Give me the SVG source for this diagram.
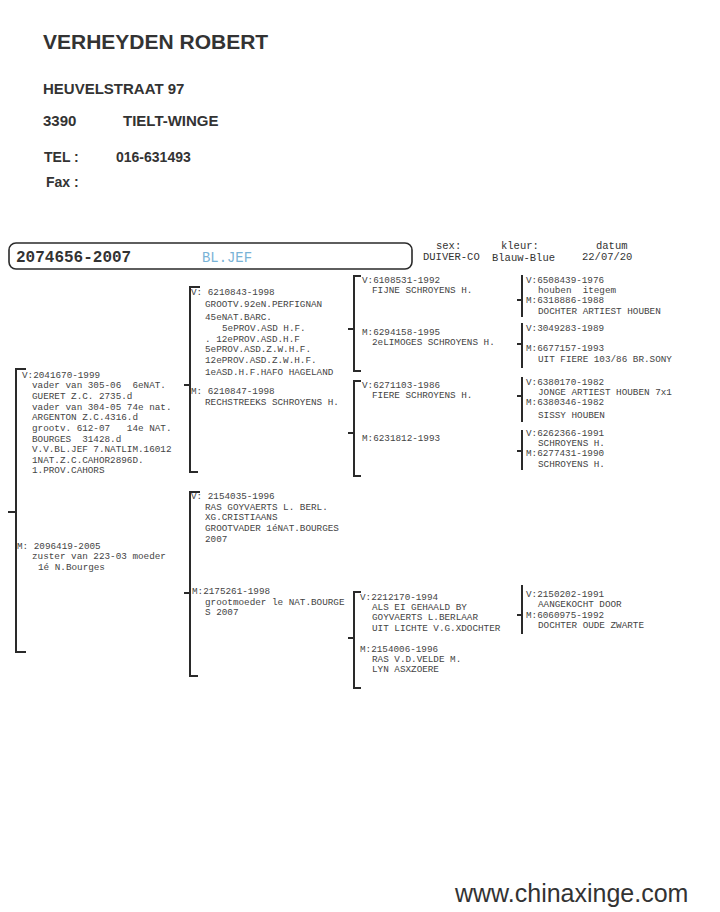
<svg xmlns="http://www.w3.org/2000/svg" width="720" height="912" viewBox="0 0 720 912">
<style>
.h{font-family:"Liberation Sans",Arial,sans-serif;font-weight:bold;fill:#333}
.t{font-family:"Liberation Mono","Courier New",monospace;font-size:9.3px;fill:#444;white-space:pre}
.s{font-family:"Liberation Mono","Courier New",monospace;fill:#333;white-space:pre}
.l{font-family:"Liberation Mono","Courier New",monospace;font-size:10.5px;fill:#333;white-space:pre}
.br{fill:none;stroke:#2a2a2a;stroke-width:2}
</style>
<rect width="720" height="912" fill="#fff"/>
<g id="header">
<text class="h" x="43" y="49" font-size="21">VERHEYDEN ROBERT</text>
<text class="h" x="43" y="94" font-size="15">HEUVELSTRAAT 97</text>
<text class="h" x="43" y="126" font-size="15">3390</text>
<text class="h" x="123" y="126" font-size="15">TIELT-WINGE</text>
<text class="h" x="44" y="162" font-size="14">TEL :</text>
<text class="h" x="116" y="162" font-size="14">016-631493</text>
<text class="h" x="46" y="187" font-size="14">Fax :</text>
</g>
<g id="titlebar">
<rect x="9" y="243" width="403" height="26" rx="7" fill="none" stroke="#2a2a2a" stroke-width="1.6"/>
<text class="s" x="16" y="262" font-size="16" font-weight="bold" fill="#2a2a2a">2074656-2007</text>
<text class="s" x="202" y="262" font-size="13.9" style="fill:#78b2d6">BL.JEF</text>
<text class="l" x="436" y="249">sex:</text>
<text class="l" x="423" y="260">DUIVER-CO</text>
<text class="l" x="501" y="249">kleur:</text>
<text class="l" x="492" y="261">Blauw-Blue</text>
<text class="l" x="596" y="249">datum</text>
<text class="l" x="582" y="260">22/07/20</text>
</g>
<g id="connectors">
<path class="br" d="M26 369H16V652H26M8 512H16"/>
<path class="br" d="M200 287H190V472H198M184 385H190"/>
<path class="br" d="M200 492H190V676H198M184 593H190"/>
<path class="br" d="M361 276H354V371H361M348 329H354"/>
<path class="br" d="M361 381H354V476H361M348 433H354"/>
<path class="br" d="M361 592H354V688H361M348 638H354"/>
<path class="br" d="M522 275V317M517 300H522"/>
<path class="br" d="M522 323V368M517 344H522"/>
<path class="br" d="M522 377V422M517 396H522"/>
<path class="br" d="M522 430V470M517 451H522"/>
<path class="br" d="M522 585V634M517 615H522"/>
</g>
<g id="sire-2041670">
<text class="t" x="22" y="378">V:2041670-1999</text>
<text class="t" x="32" y="388">vader van 305-06  6eNAT.</text>
<text class="t" x="32" y="399">GUERET Z.C. 2735.d</text>
<text class="t" x="32" y="410">vader van 304-05 74e nat.</text>
<text class="t" x="32" y="420">ARGENTON Z.C.4316.d</text>
<text class="t" x="32" y="431">grootv. 612-07   14e NAT.</text>
<text class="t" x="32" y="442">BOURGES  31428.d</text>
<text class="t" x="32" y="452">V.V.BL.JEF 7.NATLIM.16012</text>
<text class="t" x="32" y="463">1NAT.Z.C.CAHOR2896D.</text>
<text class="t" x="32" y="473">1.PROV.CAHORS</text>
</g>
<g id="dam-2096419">
<text class="t" x="17" y="549">M: 2096419-2005</text>
<text class="t" x="32" y="559">zuster van 223-03 moeder</text>
<text class="t" x="38" y="570">1é N.Bourges</text>
</g>
<g id="ss-6210843">
<text class="t" x="191" y="295">V: 6210843-1998</text>
<text class="t" x="205" y="307">GROOTV.92eN.PERFIGNAN</text>
<text class="t" x="205" y="320">45eNAT.BARC.</text>
<text class="t" x="222" y="331">5ePROV.ASD H.F.</text>
<text class="t" x="205" y="342">. 12ePROV.ASD.H.F</text>
<text class="t" x="205" y="352">5ePROV.ASD.Z.W.H.F.</text>
<text class="t" x="205" y="363">12ePROV.ASD.Z.W.H.F.</text>
<text class="t" x="205" y="375">1eASD.H.F.HAFO HAGELAND</text>
</g>
<g id="sd-6210847">
<text class="t" x="191" y="394">M: 6210847-1998</text>
<text class="t" x="205" y="405">RECHSTREEKS SCHROYENS H.</text>
</g>
<g id="ds-2154035">
<text class="t" x="191" y="499">V: 2154035-1996</text>
<text class="t" x="205" y="510">RAS GOYVAERTS L. BERL.</text>
<text class="t" x="205" y="520">XG.CRISTIAANS</text>
<text class="t" x="205" y="531">GROOTVADER 1éNAT.BOURGES</text>
<text class="t" x="205" y="542">2007</text>
</g>
<g id="dd-2175261">
<text class="t" x="192" y="594">M:2175261-1998</text>
<text class="t" x="205" y="605">grootmoeder le NAT.BOURGE</text>
<text class="t" x="205" y="615">S 2007</text>
</g>
<g id="g3-6108531">
<text class="t" x="362" y="283">V:6108531-1992</text>
<text class="t" x="372" y="293">FIJNE SCHROYENS H.</text>
</g>
<g id="g3-6294158">
<text class="t" x="362" y="335">M:6294158-1995</text>
<text class="t" x="372" y="345">2eLIMOGES SCHROYENS H.</text>
</g>
<g id="g3-6271103">
<text class="t" x="362" y="388">V:6271103-1986</text>
<text class="t" x="372" y="398">FIERE SCHROYENS H.</text>
</g>
<g id="g3-6231812">
<text class="t" x="362" y="441">M:6231812-1993</text>
</g>
<g id="g3-2212170">
<text class="t" x="360" y="600">V:2212170-1994</text>
<text class="t" x="372" y="610">ALS EI GEHAALD BY</text>
<text class="t" x="372" y="620">GOYVAERTS L.BERLAAR</text>
<text class="t" x="372" y="631">UIT LICHTE V.G.XDOCHTER</text>
</g>
<g id="g3-2154006">
<text class="t" x="360" y="652">M:2154006-1996</text>
<text class="t" x="372" y="662">RAS V.D.VELDE M.</text>
<text class="t" x="372" y="672">LYN ASXZOERE</text>
</g>
<g id="g4-6508439">
<text class="t" x="526" y="283">V:6508439-1976</text>
<text class="t" x="538" y="293">houben  itegem</text>
</g>
<g id="g4-6318886">
<text class="t" x="526" y="303">M:6318886-1988</text>
<text class="t" x="538" y="314">DOCHTER ARTIEST HOUBEN</text>
</g>
<g id="g4-3049283">
<text class="t" x="526" y="331">V:3049283-1989</text>
</g>
<g id="g4-6677157">
<text class="t" x="526" y="351">M:6677157-1993</text>
<text class="t" x="538" y="362">UIT FIERE 103/86 BR.SONY</text>
</g>
<g id="g4-6380170">
<text class="t" x="526" y="385">V:6380170-1982</text>
<text class="t" x="538" y="395">JONGE ARTIEST HOUBEN 7x1</text>
</g>
<g id="g4-6380346">
<text class="t" x="526" y="405">M:6380346-1982</text>
<text class="t" x="538" y="418">SISSY HOUBEN</text>
</g>
<g id="g4-6262366">
<text class="t" x="526" y="436">V:6262366-1991</text>
<text class="t" x="538" y="446">SCHROYENS H.</text>
</g>
<g id="g4-6277431">
<text class="t" x="526" y="456">M:6277431-1990</text>
<text class="t" x="538" y="467">SCHROYENS H.</text>
</g>
<g id="g4-2150202">
<text class="t" x="526" y="597">V:2150202-1991</text>
<text class="t" x="538" y="607">AANGEKOCHT DOOR</text>
</g>
<g id="g4-6060975">
<text class="t" x="526" y="618">M:6060975-1992</text>
<text class="t" x="538" y="628">DOCHTER OUDE ZWARTE</text>
</g>
<g id="footer">
<text x="455" y="902" font-family="'Liberation Sans',Arial,sans-serif" font-size="25" fill="#333">www.chinaxinge.com</text>
</g>
</svg>
